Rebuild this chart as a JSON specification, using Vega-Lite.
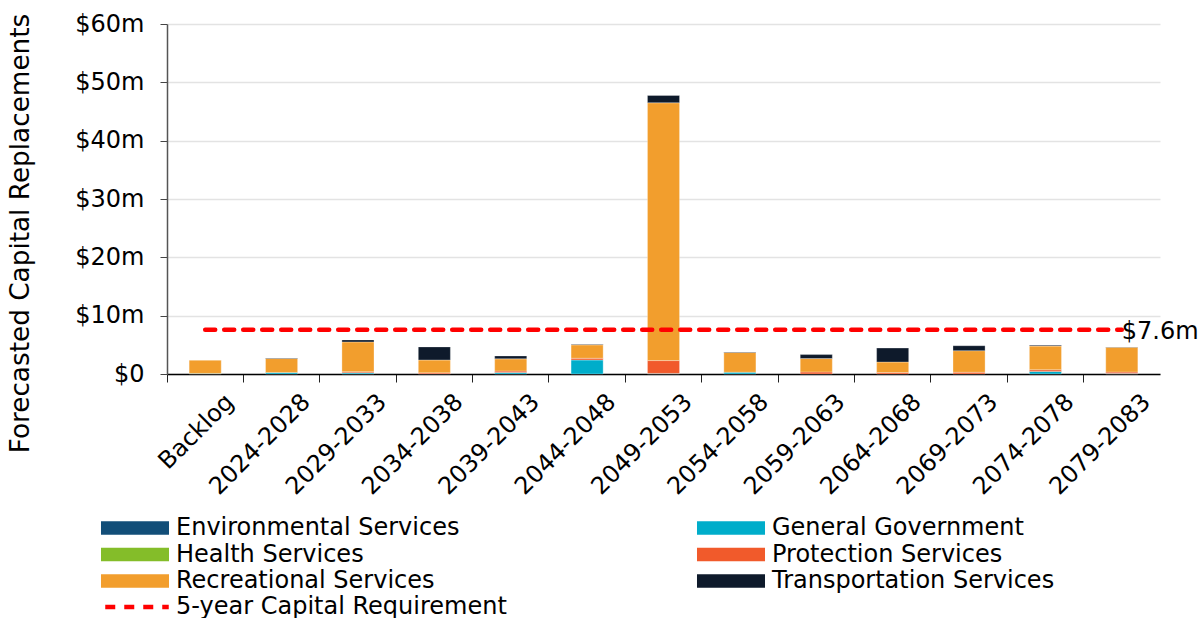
{
  "$schema": "https://vega.github.io/schema/vega-lite/v6.json",
  "autosize": {"type": "none"},
  "width": 993,
  "height": 350,
  "padding": {"left": 167, "top": 24, "right": 44, "bottom": 244},
  "background": "white",
  "config": {
    "font": "DejaVu Sans",
    "view": {"stroke": null}
  },
  "datasets": {
    "bars": [
      {"period": "Backlog", "service": "General Government", "value": 0.1},
      {"period": "Backlog", "service": "Recreational Services", "value": 2.25},
      {"period": "2024-2028", "service": "General Government", "value": 0.25},
      {"period": "2024-2028", "service": "Recreational Services", "value": 2.4},
      {"period": "2024-2028", "service": "Transportation Services", "value": 0.1},
      {"period": "2029-2033", "service": "General Government", "value": 0.2},
      {"period": "2029-2033", "service": "Protection Services", "value": 0.2},
      {"period": "2029-2033", "service": "Recreational Services", "value": 5.1},
      {"period": "2029-2033", "service": "Transportation Services", "value": 0.35},
      {"period": "2034-2038", "service": "Protection Services", "value": 0.2},
      {"period": "2034-2038", "service": "Recreational Services", "value": 2.2},
      {"period": "2034-2038", "service": "Transportation Services", "value": 2.25},
      {"period": "2039-2043", "service": "General Government", "value": 0.25},
      {"period": "2039-2043", "service": "Protection Services", "value": 0.25},
      {"period": "2039-2043", "service": "Recreational Services", "value": 2.1},
      {"period": "2039-2043", "service": "Transportation Services", "value": 0.5},
      {"period": "2044-2048", "service": "General Government", "value": 2.4},
      {"period": "2044-2048", "service": "Protection Services", "value": 0.3},
      {"period": "2044-2048", "service": "Recreational Services", "value": 2.3},
      {"period": "2044-2048", "service": "Transportation Services", "value": 0.1},
      {"period": "2049-2053", "service": "General Government", "value": 0.1},
      {"period": "2049-2053", "service": "Protection Services", "value": 2.2},
      {"period": "2049-2053", "service": "Recreational Services", "value": 44.2},
      {"period": "2049-2053", "service": "Transportation Services", "value": 1.25},
      {"period": "2054-2058", "service": "General Government", "value": 0.3},
      {"period": "2054-2058", "service": "Recreational Services", "value": 3.4},
      {"period": "2054-2058", "service": "Transportation Services", "value": 0.07},
      {"period": "2059-2063", "service": "Protection Services", "value": 0.35},
      {"period": "2059-2063", "service": "Recreational Services", "value": 2.3},
      {"period": "2059-2063", "service": "Transportation Services", "value": 0.68},
      {"period": "2064-2068", "service": "Protection Services", "value": 0.25},
      {"period": "2064-2068", "service": "Recreational Services", "value": 1.8},
      {"period": "2064-2068", "service": "Transportation Services", "value": 2.4},
      {"period": "2069-2073", "service": "Protection Services", "value": 0.3},
      {"period": "2069-2073", "service": "Recreational Services", "value": 3.7},
      {"period": "2069-2073", "service": "Transportation Services", "value": 0.85},
      {"period": "2074-2078", "service": "General Government", "value": 0.45},
      {"period": "2074-2078", "service": "Protection Services", "value": 0.28},
      {"period": "2074-2078", "service": "Recreational Services", "value": 4.05},
      {"period": "2074-2078", "service": "Transportation Services", "value": 0.15},
      {"period": "2079-2083", "service": "General Government", "value": 0.1},
      {"period": "2079-2083", "service": "Protection Services", "value": 0.23},
      {"period": "2079-2083", "service": "Recreational Services", "value": 4.25},
      {"period": "2079-2083", "service": "Transportation Services", "value": 0.07}
    ],
    "req": [
      {"period": "Backlog", "series": "5-year Capital Requirement", "requirement": 7.6},
      {"period": "2024-2028", "series": "5-year Capital Requirement", "requirement": 7.6},
      {"period": "2029-2033", "series": "5-year Capital Requirement", "requirement": 7.6},
      {"period": "2034-2038", "series": "5-year Capital Requirement", "requirement": 7.6},
      {"period": "2039-2043", "series": "5-year Capital Requirement", "requirement": 7.6},
      {"period": "2044-2048", "series": "5-year Capital Requirement", "requirement": 7.6},
      {"period": "2049-2053", "series": "5-year Capital Requirement", "requirement": 7.6},
      {"period": "2054-2058", "series": "5-year Capital Requirement", "requirement": 7.6},
      {"period": "2059-2063", "series": "5-year Capital Requirement", "requirement": 7.6},
      {"period": "2064-2068", "series": "5-year Capital Requirement", "requirement": 7.6},
      {"period": "2069-2073", "series": "5-year Capital Requirement", "requirement": 7.6},
      {"period": "2074-2078", "series": "5-year Capital Requirement", "requirement": 7.6},
      {"period": "2079-2083", "series": "5-year Capital Requirement", "requirement": 7.6, "label": "$7.6m"}
    ]
  },
  "encoding": {
    "x": {
      "field": "period",
      "type": "nominal",
      "sort": ["Backlog", "2024-2028", "2029-2033", "2034-2038", "2039-2043", "2044-2048", "2049-2053", "2054-2058", "2059-2063", "2064-2068", "2069-2073", "2074-2078", "2079-2083"],
      "scale": {"paddingInner": 0, "paddingOuter": 0},
      "axis": {
        "title": null,
        "bandPosition": 0,
        "labelAngle": -45,
        "labelAlign": "right",
        "labelBaseline": "middle",
        "labelFontSize": 24,
        "labelColor": "#000000",
        "labelPadding": 16,
        "labelOffset": 25,
        "tickSize": 8,
        "tickColor": "#222222",
        "domainColor": "#000000",
        "domainWidth": 1.5,
        "grid": false
      }
    }
  },
  "layer": [
    {
      "data": {"name": "bars"},
      "mark": {"type": "bar", "width": {"band": 0.42}, "stroke": "#ffffff", "strokeWidth": 0.5, "strokeOpacity": 0.6},
      "encoding": {
        "y": {
          "field": "value",
          "type": "quantitative",
          "aggregate": "sum",
          "stack": "zero",
          "scale": {"domain": [0, 60]},
          "axis": {
            "title": "Forecasted Capital Replacements",
            "titleFontSize": 26.3,
            "titleFontWeight": "normal",
            "titleColor": "#000000",
            "titleAngle": -90,
            "titleAlign": "center",
            "titleBaseline": "alphabetic",
            "titleX": -139,
            "titleY": 209,
            "values": [0, 10, 20, 30, 40, 50, 60],
            "labelExpr": "datum.value === 0 ? '$0' : '$' + datum.value + 'm'",
            "labelFontSize": 24,
            "labelColor": "#000000",
            "labelPadding": 16,
            "tickSize": 7,
            "tickColor": "#444444",
            "domainColor": "#555555",
            "domainWidth": 1.5,
            "gridColor": "#e3e3e3",
            "gridWidth": 1.5
          }
        },
        "order": {"field": "service", "sort": "ascending"},
        "color": {
          "field": "service",
          "type": "nominal",
          "scale": {
            "domain": ["Environmental Services", "General Government", "Health Services", "Protection Services", "Recreational Services", "Transportation Services"],
            "range": ["#124E78", "#00ADCA", "#84BD29", "#F15A2B", "#F29E2D", "#0E1A2B"]
          },
          "legend": {
            "title": null,
            "orient": "none",
            "direction": "horizontal",
            "legendX": -44,
            "legendY": 492,
            "padding": 0,
            "columns": 2,
            "columnPadding": 236,
            "rowPadding": 2.5,
            "labelFontSize": 24,
            "labelColor": "#000000",
            "labelLimit": 600,
            "labelOffset": 29,
            "symbolType": "M-5,-1H5V1H-5Z",
            "symbolSize": 185,
            "symbolStrokeWidth": 0
          }
        }
      }
    },
    {
      "data": {"name": "req"},
      "mark": {"type": "line", "color": "#FF0000", "strokeWidth": 4.5, "strokeCap": "round"},
      "encoding": {
        "y": {"field": "requirement", "type": "quantitative"},
        "strokeDash": {
          "field": "series",
          "type": "nominal",
          "scale": {"domain": ["5-year Capital Requirement"], "range": [[10, 9]]},
          "legend": {
            "title": null,
            "orient": "none",
            "legendX": -64,
            "legendY": 549,
            "padding": 0,
            "labelFontSize": 24,
            "labelColor": "#000000",
            "labelLimit": 600,
            "labelOffset": 5,
            "symbolType": "stroke",
            "symbolSize": 4032,
            "symbolStrokeWidth": 4.5,
            "symbolStrokeColor": "#FF0000"
          }
        }
      }
    },
    {
      "data": {"name": "req"},
      "transform": [{"filter": "datum.label != null"}],
      "mark": {"type": "text", "align": "left", "baseline": "middle", "dx": 0, "dy": 2, "fontSize": 24, "color": "#000000"},
      "encoding": {
        "y": {"field": "requirement", "type": "quantitative"},
        "text": {"field": "label"}
      }
    }
  ]
}
